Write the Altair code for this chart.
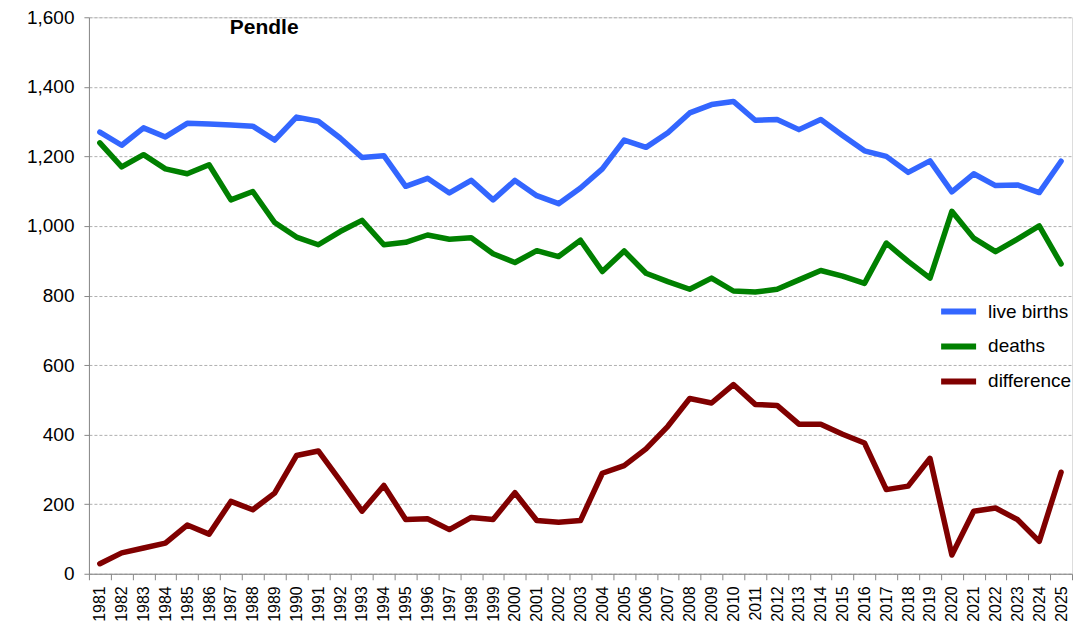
import altair as alt
import pandas as pd

years = [str(y) for y in range(1981, 2026)]

live_births = [1270, 1232, 1282, 1256, 1295, 1293, 1290, 1287, 1247, 1313,
               1301, 1253, 1197, 1202, 1114, 1137, 1095, 1131, 1075, 1131,
               1087, 1064, 1109, 1164, 1247, 1226, 1268, 1325, 1349, 1358,
               1304, 1306, 1277, 1306, 1260, 1216, 1200, 1154, 1187, 1098,
               1150, 1116, 1118, 1096, 1186]

deaths = [1239, 1170, 1205, 1164, 1150, 1176, 1075, 1099, 1010, 968,
          946, 984, 1016, 946, 953, 974, 962, 966, 920, 895,
          929, 912, 959, 869, 928, 864, 840, 818, 850, 813,
          810, 818, 845, 872, 856, 835, 951, 898, 850, 1042,
          965, 926, 962, 1000, 891]

difference = [29, 60, 74, 88, 140, 114, 208, 184, 232, 340,
              353, 268, 180, 254, 156, 158, 127, 162, 156, 233,
              153, 148, 153, 289, 311, 359, 424, 504, 491, 544,
              487, 484, 430, 430, 401, 376, 242, 252, 332, 54,
              180, 189, 156, 93, 292]

series_names = ["live births", "deaths", "difference"]
series_colors = ["#3366FF", "#008000", "#800000"]

df = pd.DataFrame({"year": years, "live births": live_births,
                   "deaths": deaths, "difference": difference})
long = df.melt(id_vars="year", var_name="series", value_name="value")

font = "Liberation Sans"

lines = alt.Chart(long).mark_line(strokeWidth=5.5, strokeCap="round", strokeJoin="round").encode(
    x=alt.X("year:O", bandPosition=0.5,
            scale=alt.Scale(type="band", paddingInner=0, paddingOuter=0),
            axis=alt.Axis(title=None, labelAngle=-90, labelFontSize=16, labelFont=font,
                          labelColor="#000000", tickBand="extent", tickSize=6,
                          tickColor="#888888", domainColor="#888888", labelPadding=6,
                          grid=False, labelBaseline="middle", labelAlign="right")),
    y=alt.Y("value:Q", scale=alt.Scale(domain=[0, 1600], nice=False),
            axis=alt.Axis(title=None, values=list(range(0, 1601, 200)), format=",d",
                          labelFontSize=19, labelFont=font, labelColor="#000000",
                          tickSize=5, tickColor="#888888", domainColor="#888888",
                          labelPadding=10, gridColor="#b0b0b0", gridDash=[3, 2],
                          gridWidth=1)),
    color=alt.Color("series:N",
                    scale=alt.Scale(domain=series_names, range=series_colors),
                    sort=series_names,
                    legend=alt.Legend(title=None, orient="none", legendX=850, legendY=274,
                                      symbolType="stroke", symbolSize=1225,
                                      symbolStrokeWidth=6, labelFontSize=19,
                                      labelFont=font, labelColor="#000000",
                                      labelOffset=9, rowPadding=2, padding=0)),
)

title_df = pd.DataFrame({"year": ["1988"], "value": [1600], "label": ["Pendle"]})
title = alt.Chart(title_df).mark_text(fontSize=21, fontWeight="bold", font=font,
                                      align="left", baseline="top", dx=-12, dy=0,
                                      color="#000000").encode(
    x=alt.X("year:O", bandPosition=0.0),
    y="value:Q",
    text="label:N",
)

chart = alt.layer(lines, title).properties(
    width=984, height=557,
    padding={"left": 18, "top": 0, "right": 5, "bottom": 5},
).configure_view(stroke=None).configure(background="white")

chart.save("out.html", embed_options={"renderer": "svg", "actions": False})
